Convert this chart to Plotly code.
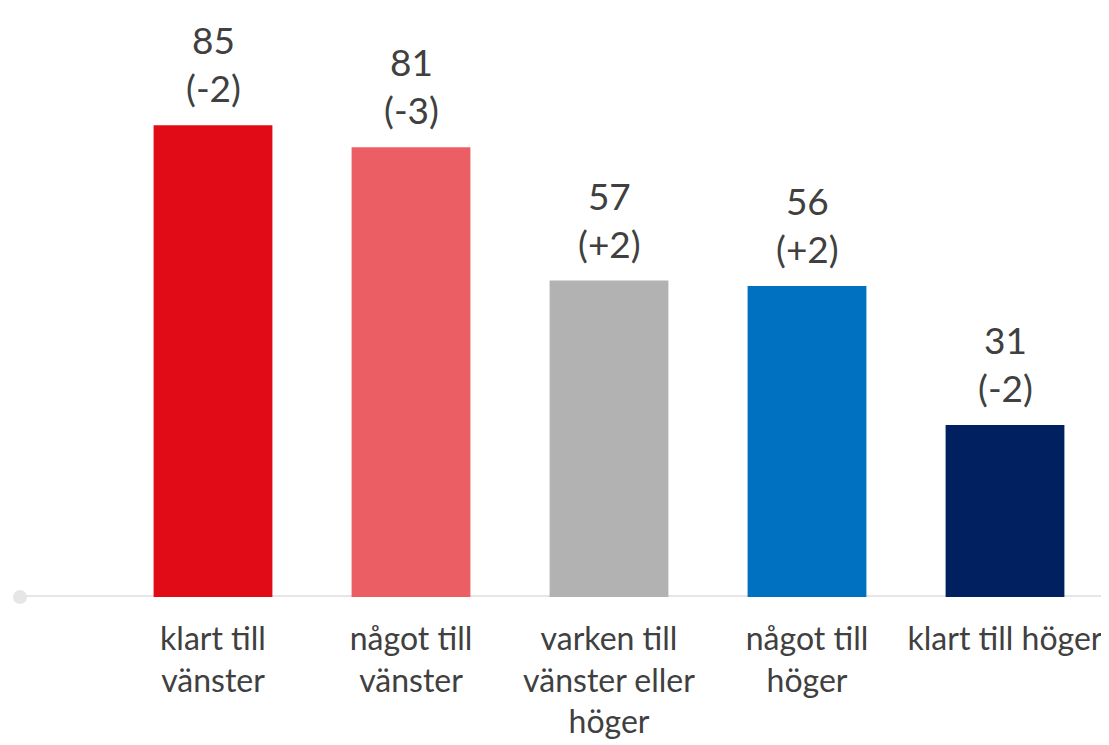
import plotly.graph_objects as go

categories = ["klart till<br>vänster", "något till<br>vänster", "varken till<br>vänster eller<br>höger",
              "något till<br>höger", "klart till höger"]
values = [85, 81, 57, 56, 31]
changes = ["-2", "-3", "+2", "+2", "-2"]
colors = ["#e00b16", "#eb5e63", "#b2b2b2", "#0070c0", "#002060"]

txt_color = "#404040"
font_name = "Lato"

# page body has an 8px margin, so the figure is drawn slightly smaller
W, H = 1101, 737
L, R, T, B = 106, 5, 0, 148
plot_w = W - L - R
plot_h = H - T - B

fig = go.Figure(go.Bar(
    x=categories,
    y=values,
    marker=dict(color=colors, line=dict(width=0)),
    width=0.6,
    hoverinfo="skip",
))

# value + change labels above bars
for c, v, d in zip(categories, values, changes):
    fig.add_annotation(
        x=c, y=v, text=f"{v}<br>({d})",
        showarrow=False, yanchor="bottom", yshift=13,
        font=dict(size=37, color=txt_color, family=font_name),
    )

# baseline with dot at left end
x_left = (12 - L) / plot_w
fig.add_shape(type="line", xref="paper", yref="y", x0=x_left, x1=1.02, y0=0, y1=0,
              line=dict(color="#e6e6e6", width=4), layer="below")
fig.add_shape(type="circle", xref="paper", yref="paper",
              x0=x_left - 7 / plot_w, x1=x_left + 7 / plot_w,
              y0=-7 / plot_h, y1=7 / plot_h,
              fillcolor="#e6e6e6", line=dict(width=0))

fig.update_layout(
    width=W, height=H,
    margin=dict(l=L, r=R, t=T, b=B),
    plot_bgcolor="white",
    paper_bgcolor="white",
    showlegend=False,
    xaxis=dict(showline=False, showgrid=False, zeroline=False, ticks="",
               tickfont=dict(size=32, color=txt_color, family=font_name),
               ticklabelstandoff=20,
               range=[-0.5, 4.5]),
    yaxis=dict(visible=False, range=[0, 106.1], showgrid=False, zeroline=False),
)

fig.write_html("out.html")
